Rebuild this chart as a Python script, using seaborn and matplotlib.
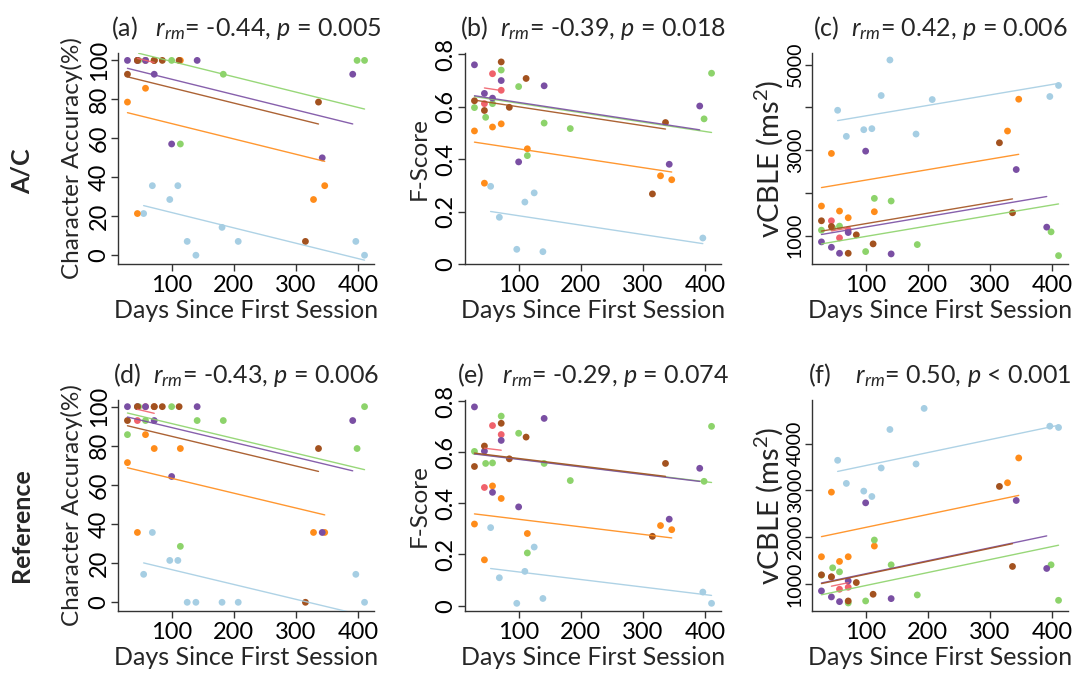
import numpy as np
import pandas as pd
import matplotlib
matplotlib.use('Agg')
import matplotlib.pyplot as plt
import seaborn as sns

sns.set_style('ticks')
plt.rcParams['font.family'] = ['Lato', 'DejaVu Sans']
plt.rcParams['mathtext.fontset'] = 'custom'
plt.rcParams['mathtext.rm'] = 'Lato'
plt.rcParams['mathtext.it'] = 'Lato:italic'

nan = np.nan

# subjects and their colours
subjects = ['S1', 'S2', 'S3', 'S4', 'S5', 'S6']
palette = {'S1': '#A6CEE3', 'S2': '#FF8C1A', 'S3': '#8DD36B',
           'S4': '#F0626C', 'S5': '#7A4FA3', 'S6': '#A3521F'}

# session days (days since first session) per subject
days = {
    'S1': [55, 69, 97, 110, 125, 139, 181, 207, 396, 410],
    'S2': [29, 45, 58, 72, 114, 328, 346],
    'S3': [29, 47, 58, 72, 100, 114, 141, 183, 398, 410],
    'S4': [45, 58, 72],
    'S5': [29, 45, 58, 72, 100, 141, 342, 391],
    'S6': [29, 45, 72, 85, 112, 315, 336],
}
days_s1_f = [55, 69, 97, 110, 125, 139, 181, 194, 396, 410]

# (a) A/C character accuracy
acc_ac = {
    'S1': [21.4, 35.7, 28.6, 35.7, 7.1, 0, 14.3, 7.1, 7.1, 0],
    'S2': [78.6, 21.4, 85.7, 100, 100, 28.6, 35.7],
    'S3': [nan, 100, 100, 100, 100, 57.1, nan, 92.9, 100, 100],
    'S4': [100, 100, 100],
    'S5': [100, 100, 100, 92.9, 57.1, 100, 50, 92.9],
    'S6': [92.9, 100, 100, 100, 100, 7.1, 78.6],
}
# (b) A/C F-score
fs_ac = {
    'S1': [0.296, 0.178, 0.056, 0.236, 0.271, 0.047, nan, nan, 0.099, nan],
    'S2': [0.507, 0.308, 0.522, 0.534, 0.439, 0.336, 0.321],
    'S3': [0.596, 0.559, 0.611, 0.739, 0.676, 0.413, 0.537, 0.516, 0.553, 0.727],
    'S4': [0.611, 0.725, 0.662],
    'S5': [0.759, 0.650, 0.632, 0.699, 0.389, 0.679, 0.380, 0.602],
    'S6': [0.622, 0.585, 0.770, 0.597, 0.707, 0.267, 0.539],
}
# (c) A/C vCBLE
vc_ac = {
    'S1': [3933, 3322, 3478, 3502, 4278, 5110, 3376, 4184, 4255, 4514],
    'S2': [1690, 2922, 1573, 1416, 1557, 3447, 4192],
    'S3': [1125, 1180, 1220, nan, 624, 1870, 1808, 788, 1086, 529],
    'S4': [1345, 945, 1133],
    'S5': [851, 725, 584, 1070, 2976, 569, 2545, 1196],
    'S6': [1345, 1212, 584, 1016, 804, 3172, 1533],
}
# (d) Reference character accuracy
acc_ref = {
    'S1': [14.3, 35.7, 21.4, 21.4, 0, 0, 0, 0, 14.3, 0],
    'S2': [71.4, 35.7, 85.7, 78.6, 78.6, 35.7, 35.7],
    'S3': [85.7, 100, 92.9, 100, 100, 28.6, 92.9, 92.9, 78.6, 100],
    'S4': [92.9, 100, 100],
    'S5': [100, 100, 100, 92.9, 64.3, 100, 35.7, 92.9],
    'S6': [92.9, 100, 100, 100, 100, 0, 78.6],
}
# (e) Reference F-score
fs_ref = {
    'S1': [0.305, 0.109, 0.009, 0.134, 0.229, 0.028, nan, nan, 0.053, 0.009],
    'S2': [0.319, 0.179, 0.468, 0.419, 0.282, 0.313, 0.297],
    'S3': [0.603, 0.556, 0.558, 0.741, 0.674, 0.206, 0.556, 0.489, 0.486, 0.701],
    'S4': [0.462, 0.704, 0.669],
    'S5': [0.777, 0.604, 0.443, 0.646, 0.386, 0.732, 0.338, 0.537],
    'S6': [0.544, 0.624, 0.713, 0.574, 0.659, 0.271, 0.556],
}
# (f) Reference vCBLE
vc_ref = {
    'S1': [3643, 3150, 2986, 2871, 3479, 4300, 3564, 4750, 4371, 4343],
    'S2': [1586, 2964, 1486, 1586, 1814, 3164, 3693],
    'S3': [1194, 1350, 1264, 600, 643, 1943, 1414, 771, 1414, 657],
    'S4': [1156, 893, 936],
    'S5': [857, 729, 629, 1071, 2736, 693, 2786, 1336],
    'S6': [1200, 1157, 643, 1036, 786, 3086, 1379],
}

titles = [r'(a)   $r_{rm}$= -0.44, $p$ = 0.005',
          r'(b)  $r_{rm}$= -0.39, $p$ = 0.018',
          r'(c)  $r_{rm}$= 0.42, $p$ = 0.006',
          r'(d)  $r_{rm}$= -0.43, $p$ = 0.006',
          r'(e)   $r_{rm}$= -0.29, $p$ = 0.074',
          r'(f)    $r_{rm}$= 0.50, $p$ < 0.001']
ylabels = ['Character Accuracy(%)', 'F-Score', r'vCBLE (ms$^2$)']
row_labels = ['A/C', 'Reference']


def to_long(values, day_override=None):
    rows = []
    for s in subjects:
        d = days[s]
        if day_override and s in day_override:
            d = day_override[s]
        for x, y in zip(d, values[s]):
            rows.append({'subject': s, 'day': x, 'value': y})
    return pd.DataFrame(rows).dropna()


def rmcorr_fit(df):
    """common slope, subject specific intercepts (repeated measures corr)"""
    mx = df.groupby('subject')['day'].transform('mean')
    my = df.groupby('subject')['value'].transform('mean')
    xc = df['day'] - mx
    yc = df['value'] - my
    slope = (xc * yc).sum() / (xc ** 2).sum()
    return df.assign(fit=my + slope * xc)


panels = [to_long(acc_ac), to_long(fs_ac), to_long(vc_ac),
          to_long(acc_ref), to_long(fs_ref), to_long(vc_ref, {'S1': days_s1_f})]
ylims = [(-4.5, 103.8), (0, 0.804), (333, 5274),
         (-4.45, 103.4), (-0.021, 0.804), (429, 4929)]
yticks = [[0, 20, 40, 60, 80, 100], [0, 0.2, 0.4, 0.6, 0.8],
          [1000, 2000, 3000, 4000, 5000],
          [0, 20, 40, 60, 80, 100], [0, 0.2, 0.4, 0.6, 0.8],
          [1000, 2000, 3000, 4000]]
ytlabels = [['0', '20', '40', '60', '80', '100'], ['0', '0.2', '0.4', '0.6', '0.8'],
            ['1000', '', '3000', '', '5000'],
            ['0', '20', '40', '60', '80', '100'], ['0', '0.2', '0.4', '0.6', '0.8'],
            ['1000', '2000', '3000', '4000']]

W, H = 1090, 674
fig = plt.figure(figsize=(W / 100, H / 100), dpi=100)
lefts = [118, 465, 812]
tops = [53, 400]
aw, ah = 256, 211
axc = '#333333'

for i, df in enumerate(panels):
    r, c = divmod(i, 3)
    ax = fig.add_axes([lefts[c] / W, 1 - (tops[r] + ah) / H, aw / W, ah / H])
    fit = rmcorr_fit(df)
    sns.scatterplot(data=df, x='day', y='value', hue='subject', palette=palette,
                    s=24, edgecolor='none', legend=False, ax=ax, zorder=2)
    sns.lineplot(data=fit, x='day', y='fit', hue='subject', palette=palette,
                 estimator=None, linewidth=1, alpha=0.9, legend=False, ax=ax, zorder=3)
    ax.set_xlim(13.8, 425.2)
    ax.set_ylim(*ylims[i])
    ax.set_xticks([100, 200, 300, 400])
    ax.set_yticks(yticks[i])
    ax.set_yticklabels(ytlabels[i])
    ax.tick_params(axis='both', direction='out', length=5, width=1, color=axc,
                   labelsize=17, labelcolor='black')
    # vCBLE labels are squeezed in the original
    ax.tick_params(axis='y', labelrotation=90, pad=1,
                   labelsize=14 if c == 2 else 17)
    ax.tick_params(axis='x', pad=3)
    for lab in ax.get_yticklabels():
        lab.set_va('center')
    sns.despine(ax=ax)
    for sp in ['left', 'bottom']:
        ax.spines[sp].set_color(axc)
        ax.spines[sp].set_linewidth(1)
    ax.set_xlabel('Days Since First Session', fontsize=18, labelpad=2)
    if c == 2:
        ax.set_ylabel(ylabels[c], fontsize=21, labelpad=1)
    else:
        ax.set_ylabel(ylabels[c], fontsize=17.5, labelpad=4)
    ax.set_title(titles[i], fontsize=18, pad=12)

fig.text(22 / W, 1 - 171 / H, row_labels[0], rotation=90, fontsize=18,
         fontweight='bold', ha='center', va='center')
fig.text(22 / W, 1 - 525 / H, row_labels[1], rotation=90, fontsize=18,
         fontweight='bold', ha='center', va='center')

fig.savefig('out.png', dpi=100)
